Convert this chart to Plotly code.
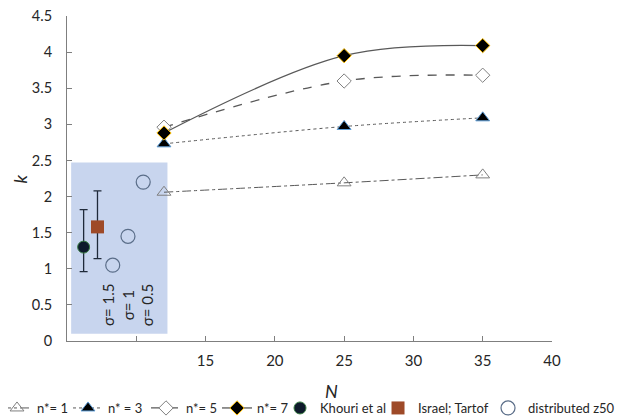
import plotly.graph_objects as go

N_vals = [12, 25, 35]
k_n1 = [2.06, 2.19, 2.30]
k_n3 = [2.73, 2.97, 3.09]
k_n5 = [2.96, 3.60, 3.68]
k_n7 = [2.88, 3.95, 4.09]

khouri_x = [6.2]
khouri_y = [1.30]
khouri_err_plus = [0.52]
khouri_err_minus = [0.34]

israel_x = [7.2]
israel_y = [1.58]
israel_err_plus = [0.50]
israel_err_minus = [0.44]

dist_x = [8.3, 9.4, 10.5]
dist_y = [1.05, 1.45, 2.20]
sigma_x = [7.97, 9.42, 10.8]
sigma_labels = ["σ= 1.5", "σ= 1", "σ= 0.5"]

x_tickvals = [5, 10, 15, 20, 25, 30, 35, 40]
x_ticktext = ["", "", "15", "20", "25", "30", "35", "40"]
y_tickvals = [0, 0.5, 1, 1.5, 2, 2.5, 3, 3.5, 4, 4.5]
y_ticktext = ["0", "0.5", "1", "1.5", "2", "2.5", "3", "3.5", "4", "4.5"]

FONT = "Lato"
TXT = "#262626"

fig = go.Figure()

fig.add_trace(go.Scatter(x=N_vals, y=k_n1, mode="lines+markers", name="n*= 1",
    legend="legend", legendwidth=26,
    line=dict(color="#595959", width=1, dash="dashdot", shape="spline"),
    marker=dict(symbol="triangle-up-open", size=12, color="#7f7f7f", line=dict(width=1))))
fig.add_trace(go.Scatter(x=N_vals, y=k_n3, mode="lines+markers", name="n* = 3",
    legend="legend", legendwidth=33,
    line=dict(color="#595959", width=1, dash="dot", shape="spline"),
    marker=dict(symbol="triangle-up", size=12, color="black", line=dict(color="#5b9bd5", width=1))))
fig.add_trace(go.Scatter(x=N_vals, y=k_n5, mode="lines+markers", name="n*= 5",
    legend="legend", legendwidth=26,
    line=dict(color="#595959", width=1.3, dash="dash", shape="spline"),
    marker=dict(symbol="diamond", size=11, color="white", line=dict(color="#7f7f7f", width=1))))
fig.add_trace(go.Scatter(x=N_vals, y=k_n7, mode="lines+markers", name="n*= 7",
    legend="legend", legendwidth=36,
    line=dict(color="#595959", width=1.3, shape="spline"),
    marker=dict(symbol="diamond", size=11, color="black", line=dict(color="#ffc000", width=1))))
fig.add_trace(go.Scatter(x=khouri_x, y=khouri_y, mode="markers", name="Khouri et al",
    legend="legend2", legendwidth=53,
    marker=dict(symbol="circle", size=12, color="#0e1a2b", line=dict(color="#3a7d44", width=1)),
    error_y=dict(type="data", symmetric=False, array=khouri_err_plus, arrayminus=khouri_err_minus,
                 color="#1f2a3a", thickness=1.3, width=4)))
fig.add_trace(go.Scatter(x=israel_x, y=israel_y, mode="markers", name="Israel; Tartof",
    legend="legend2", legendwidth=65,
    marker=dict(symbol="square", size=13, color="#9e4a28", line=dict(width=0)),
    error_y=dict(type="data", symmetric=False, array=israel_err_plus, arrayminus=israel_err_minus,
                 color="#1f2a3a", thickness=1.3, width=4)))
fig.add_trace(go.Scatter(x=dist_x, y=dist_y, mode="markers", name="distributed z50",
    legend="legend2", legendwidth=90,
    marker=dict(symbol="circle-open", size=14, color="#5a6d88", line=dict(width=1.2))))

fig.add_shape(type="rect", x0=5.3, x1=12.25, y0=0.1, y1=2.47, xref="x", yref="y",
              fillcolor="#c8d5ee", line=dict(width=0), layer="below")

for xv, lab in zip(sigma_x, sigma_labels):
    fig.add_annotation(x=xv, y=0.5, text=lab, textangle=-90,
                       showarrow=False, font=dict(family=FONT, size=15, color=TXT), xref="x", yref="y")

fig.add_annotation(text="<i>k</i>", xref="paper", yref="paper", x=-0.097, y=0.5, textangle=-90,
                   xanchor="center", yanchor="middle",
                   showarrow=False, font=dict(family=FONT, size=18, color=TXT))
fig.add_annotation(text="<i>N</i>", xref="paper", yref="paper", x=0.546, y=-0.154,
                   xanchor="center", yanchor="middle",
                   showarrow=False, font=dict(family=FONT, size=18, color=TXT))

legend_common = dict(orientation="h", y=-0.16, xanchor="left", yanchor="top",
                     font=dict(family=FONT, size=13, color=TXT), itemwidth=30,
                     tracegroupgap=0, traceorder="normal", bgcolor="rgba(0,0,0,0)")

fig.update_layout(
    width=622, height=410,
    margin=dict(l=59, r=78, t=8, b=77, autoexpand=False),
    paper_bgcolor="white", plot_bgcolor="white",
    font=dict(family=FONT, size=14, color=TXT),
    showlegend=True,
    legend=dict(x=-0.1443, **legend_common),
    legend2=dict(x=0.4392, **legend_common),
)
fig.update_xaxes(range=[5, 40], tickvals=x_tickvals, ticktext=x_ticktext,
                 showline=True, linecolor="#7f7f7f", linewidth=1, ticks="inside", ticklen=5,
                 tickcolor="#7f7f7f", showgrid=False, zeroline=False, mirror=False,
                 ticklabelstandoff=6, ticklabeloverflow="allow",
                 tickfont=dict(family=FONT, size=15, color=TXT))
fig.update_yaxes(range=[0, 4.5], tickvals=y_tickvals, ticktext=y_ticktext,
                 showline=True, linecolor="#7f7f7f", linewidth=1, ticks="inside", ticklen=5,
                 tickcolor="#7f7f7f", showgrid=False, zeroline=False,
                 ticklabelstandoff=11, ticklabeloverflow="allow",
                 tickfont=dict(family=FONT, size=14.5, color=TXT))

fig.write_html("out.html")
